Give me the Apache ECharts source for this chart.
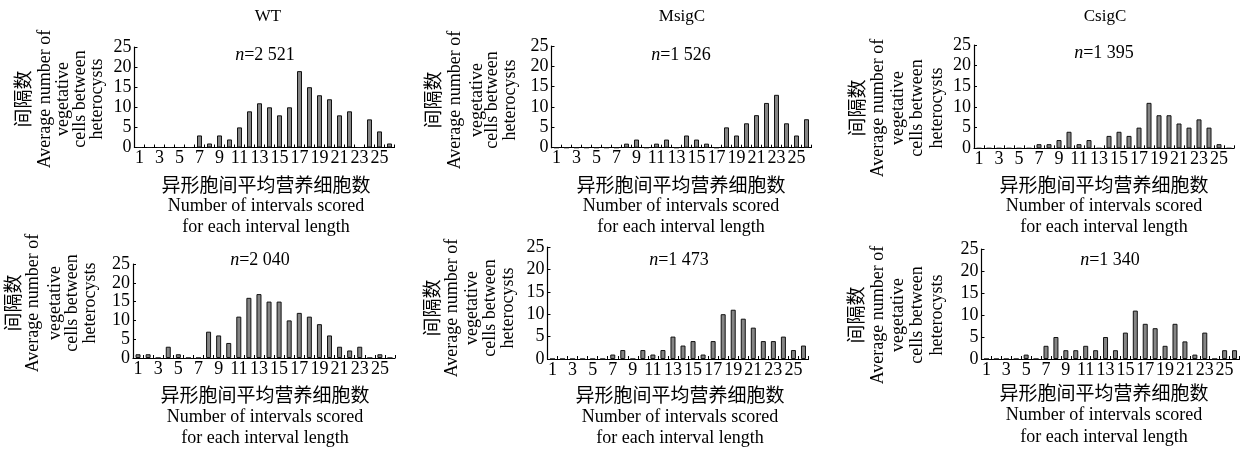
<!DOCTYPE html>
<html><head><meta charset="utf-8">
<script src="https://cdn.jsdelivr.net/npm/echarts@6/dist/echarts.min.js"></script>
<style>html,body{margin:0;padding:0;background:#fff}#c{width:1247px;height:451px}</style>
</head><body><div id="c"></div>
<script>
// ---- data ----
const categories = ['1','2','3','4','5','6','7','8','9','10','11','12','13','14','15','16','17','18','19','20','21','22','23','24','25','26'];
const wtTop    = [0,0,0,0,0,0,3,1,3,2,5,9,11,10,8,10,19,15,13,12,8,9,0,7,4,1];
const msigCTop = [0,0,0,0,0,0,0,1,2,0,1,2,0,3,2,1,0,5,3,6,8,11,13,6,3,7];
const csigCTop = [0,0,0,0,0,0,1,1,2,4,1,2,0,3,4,3,5,11,8,8,6,5,7,5,1,0];
const wtBottom    = [1,1,0,3,1,0,0,7,6,4,11,16,17,15,15,10,12,11,9,6,3,2,3,0,1,0];
const msigCBottom = [0,0,0,0,0,0,1,2,0,2,1,2,5,3,4,1,4,10,11,9,7,4,4,5,2,3];
const csigCBottom = [0,0,0,0,1,0,3,5,2,2,3,2,5,2,6,11,8,7,3,8,4,1,6,0,2,2];
const panelTitles = ['WT','MsigC','CsigC'];
const sampleSizes = ['2 521','1 526','1 395','2 040','1 473','1 340'];
const yAxisMin = 0, yAxisMax = 25, yAxisStep = 5;
const yNameLines = ['间隔数','Average number of','vegetative','cells between','heterocysts'];
const xNameLines = ['异形胞间平均营养细胞数','Number of intervals scored','for each interval length'];

const panelData = [wtTop, msigCTop, csigCTop, wtBottom, msigCBottom, csigCBottom];

// ---- layout ----
const layout = [
  {left:134.5, top:47,  width:260, height:100.5, cx:266,  nX:265,  nY:55,  xLabY:[185,206,227], yLabX:[23,45,63,80,97],       yCY:99},
  {left:551.5, top:46,  width:260, height:101.7, cx:681,  nX:681,  nY:55,  xLabY:[185,206,227], yLabX:[433,455,477,492,510],  yCY:100},
  {left:974,   top:45,  width:260, height:103.3, cx:1104, nX:1104, nY:53,  xLabY:[185,206,227], yLabX:[857,878,898,917,937],  yCY:108},
  {left:133,   top:264, width:262, height:94,    cx:265,  nX:260,  nY:260, xLabY:[395,417,438], yLabX:[13,33,55,72,90],       yCY:303},
  {left:547.5, top:247, width:261, height:112,   cx:680,  nX:679,  nY:260, xLabY:[395,417,438], yLabX:[432,452,472,490,508],  yCY:308},
  {left:981.5, top:249, width:258, height:110,   cx:1104, nX:1110, nY:260, xLabY:[393,415,437], yLabX:[856,878,898,917,937],  yCY:315}
];
const titlePos = [{x:268,y:17},{x:682,y:17},{x:1105,y:17}];

const SERIF = 'Liberation Serif, Times New Roman, serif';
const CJK = 'Noto Sans CJK SC, sans-serif';

const grids = [], xAxes = [], yAxes = [], series = [], graphics = [];
layout.forEach((p, i) => {
  grids.push({left:p.left, top:p.top, width:p.width, height:p.height, containLabel:false});
  xAxes.push({
    type:'category', gridIndex:i, data:categories, boundaryGap:true,
    axisLine:{show:true, lineStyle:{color:'#000', width:1.2}},
    axisTick:{show:true, inside:true, length:3, interval:0, lineStyle:{color:'#000', width:1}},
    axisLabel:{interval:1, fontFamily:SERIF, fontSize:18, color:'#000', margin:2},
    splitLine:{show:false}
  });
  yAxes.push({
    type:'value', gridIndex:i, min:yAxisMin, max:yAxisMax, interval:yAxisStep,
    axisLine:{show:true, lineStyle:{color:'#000', width:1.2}},
    axisTick:{show:true, inside:true, length:3, lineStyle:{color:'#000', width:1}},
    axisLabel:{fontFamily:SERIF, fontSize:18, color:'#000', margin:3},
    splitLine:{show:false}
  });
  series.push({
    type:'bar', xAxisIndex:i, yAxisIndex:i, data:panelData[i], barWidth:5,
    itemStyle:{color:'#858585', borderColor:'#111', borderWidth:1}, silent:true
  });
  // n label
  graphics.push({type:'text', x:p.nX, y:p.nY, silent:true, style:{
    text:'{i|n}=' + sampleSizes[i], fontFamily:SERIF, fontSize:18, fill:'#000',
    align:'center', verticalAlign:'middle', textAlign:'center', textVerticalAlign:'middle',
    rich:{i:{fontStyle:'italic', fontFamily:SERIF, fontSize:18, fill:'#000'}}
  }});
  // x name lines
  xNameLines.forEach((t, k) => {
    graphics.push({type:'text', x:p.cx, y:p.xLabY[k], silent:true, style:{
      text:t, fontFamily: k === 0 ? CJK : SERIF, fontSize: k === 0 ? 19 : 18, fill:'#000',
      align:'center', verticalAlign:'middle', textAlign:'center', textVerticalAlign:'middle'
    }});
  });
  // y name lines (rotated)
  yNameLines.forEach((t, k) => {
    graphics.push({type:'text', x:p.yLabX[k], y:p.yCY, rotation:Math.PI/2, silent:true, style:{
      text:t, fontFamily: k === 0 ? CJK : SERIF, fontSize: k === 0 ? 19 : 18, fill:'#000',
      align:'center', verticalAlign:'middle', textAlign:'center', textVerticalAlign:'middle'
    }});
  });
});
panelTitles.forEach((t, i) => {
  graphics.push({type:'text', x:titlePos[i].x, y:titlePos[i].y, silent:true, style:{
    text:t, fontFamily:SERIF, fontSize:17, fill:'#000',
    align:'center', verticalAlign:'middle', textAlign:'center', textVerticalAlign:'middle'
  }});
});

const chart = echarts.init(document.getElementById('c'), null, {renderer:'canvas'});
chart.setOption({
  backgroundColor:'#fff', animation:false,
  grid:grids, xAxis:xAxes, yAxis:yAxes, series:series, graphic:graphics
});
</script></body></html>
